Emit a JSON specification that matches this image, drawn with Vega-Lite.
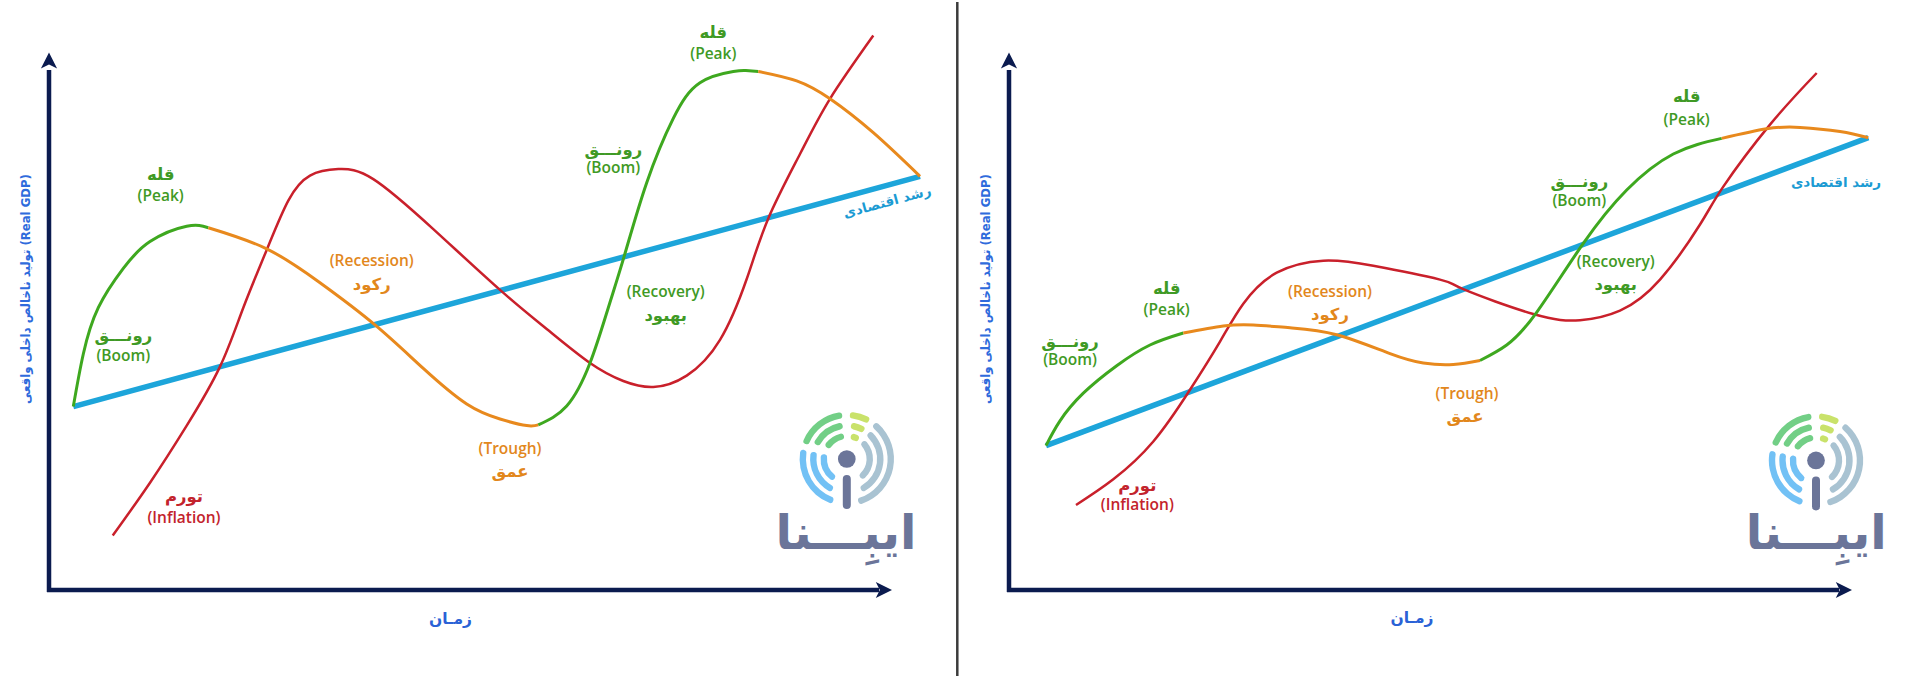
{
  "$schema": "https://vega.github.io/schema/vega-lite/v6.json",
  "background": "white",
  "padding": 0,
  "spacing": 0,
  "bounds": "flush",
  "config": {"view": {"stroke": null}, "axis": {"disable": true}},
  "resolve": {"scale": {"x": "independent", "y": "independent"}},
  "datasets": {
    "trendL": [{"t": 2.43, "v": 18.34}, {"t": 87.1, "v": 41.37}],
    "trendR": [{"t": 3.7, "v": 14.44}, {"t": 85.93, "v": 45.23}],
    "inflL": [
      {"t": 6.37, "v": 5.44}, {"t": 10.1, "v": 10.73}, {"t": 13.77, "v": 16.44}, {"t": 17.1, "v": 22.34},
      {"t": 19.43, "v": 28.23}, {"t": 21.77, "v": 34.01}, {"t": 23.93, "v": 38.94}, {"t": 26.1, "v": 41.44},
      {"t": 28.93, "v": 42.09}, {"t": 32.43, "v": 41.09}, {"t": 38.43, "v": 36.09}, {"t": 45.1, "v": 30.01},
      {"t": 49.77, "v": 26.1}, {"t": 54.1, "v": 22.7}, {"t": 57.43, "v": 20.9}, {"t": 60.43, "v": 20.3},
      {"t": 63.77, "v": 21.44}, {"t": 67.1, "v": 25.01}, {"t": 69.77, "v": 31.1}, {"t": 71.93, "v": 37.16},
      {"t": 75.1, "v": 43.6}, {"t": 78.1, "v": 49.12}, {"t": 82.43, "v": 55.44}
    ],
    "inflR": [
      {"t": 6.7, "v": 8.5}, {"t": 10.43, "v": 11.07}, {"t": 14.43, "v": 14.85}, {"t": 18.1, "v": 20.02},
      {"t": 21.1, "v": 24.84}, {"t": 23.43, "v": 28.63}, {"t": 26.77, "v": 31.73}, {"t": 31.43, "v": 32.93},
      {"t": 36.43, "v": 32.42}, {"t": 43.1, "v": 31.04}, {"t": 45.43, "v": 30.08}, {"t": 52.43, "v": 27.6},
      {"t": 57.1, "v": 26.98}, {"t": 61.1, "v": 27.94}, {"t": 65.1, "v": 31.04}, {"t": 69.1, "v": 36.55},
      {"t": 71.43, "v": 40.34}, {"t": 76.1, "v": 46.54}, {"t": 80.77, "v": 51.7}
    ],
    "cycleL": [
      {"t": 2.43, "v": 18.34, "seg": "A", "phase": "rise"}, {"t": 3.43, "v": 23.6, "seg": "A", "phase": "rise"},
      {"t": 4.93, "v": 28.23, "seg": "A", "phase": "rise"}, {"t": 7.43, "v": 32.16, "seg": "A", "phase": "rise"},
      {"t": 10.1, "v": 34.84, "seg": "A", "phase": "rise"}, {"t": 13.77, "v": 36.37, "seg": "A", "phase": "rise"},
      {"t": 15.93, "v": 36.23, "seg": "A", "phase": "rise"},
      {"t": 15.93, "v": 36.23, "seg": "B", "phase": "fall"}, {"t": 21.77, "v": 34.12, "seg": "B", "phase": "fall"},
      {"t": 27.1, "v": 30.73, "seg": "B", "phase": "fall"}, {"t": 32.6, "v": 26.51, "seg": "B", "phase": "fall"},
      {"t": 37.43, "v": 22.16, "seg": "B", "phase": "fall"}, {"t": 41.77, "v": 18.6, "seg": "B", "phase": "fall"},
      {"t": 45.1, "v": 17.1, "seg": "B", "phase": "fall"}, {"t": 47.77, "v": 16.44, "seg": "B", "phase": "fall"},
      {"t": 48.93, "v": 16.51, "seg": "B", "phase": "fall"},
      {"t": 48.93, "v": 16.51, "seg": "C", "phase": "rise"}, {"t": 51.77, "v": 18.4, "seg": "C", "phase": "rise"},
      {"t": 54.1, "v": 22.7, "seg": "C", "phase": "rise"}, {"t": 55.93, "v": 28.23, "seg": "C", "phase": "rise"},
      {"t": 57.53, "v": 33.41, "seg": "C", "phase": "rise"}, {"t": 59.77, "v": 40.73, "seg": "C", "phase": "rise"},
      {"t": 62.43, "v": 47.16, "seg": "C", "phase": "rise"}, {"t": 65.1, "v": 50.73, "seg": "C", "phase": "rise"},
      {"t": 68.43, "v": 51.85, "seg": "C", "phase": "rise"}, {"t": 69.68, "v": 51.95, "seg": "C", "phase": "rise"},
      {"t": 70.93, "v": 51.85, "seg": "C", "phase": "rise"},
      {"t": 70.93, "v": 51.85, "seg": "D", "phase": "fall"}, {"t": 74.77, "v": 50.91, "seg": "D", "phase": "fall"},
      {"t": 78.1, "v": 49.12, "seg": "D", "phase": "fall"}, {"t": 82.43, "v": 45.73, "seg": "D", "phase": "fall"},
      {"t": 87.1, "v": 41.37, "seg": "D", "phase": "fall"}
    ],
    "cycleR": [
      {"t": 3.7, "v": 14.44, "seg": "A", "phase": "rise"}, {"t": 5.1, "v": 16.92, "seg": "A", "phase": "rise"},
      {"t": 7.43, "v": 19.68, "seg": "A", "phase": "rise"}, {"t": 10.77, "v": 22.43, "seg": "A", "phase": "rise"},
      {"t": 14.1, "v": 24.5, "seg": "A", "phase": "rise"}, {"t": 17.43, "v": 25.7, "seg": "A", "phase": "rise"},
      {"t": 17.43, "v": 25.7, "seg": "B", "phase": "fall"}, {"t": 21.43, "v": 26.4, "seg": "B", "phase": "fall"},
      {"t": 24.43, "v": 26.5, "seg": "B", "phase": "fall"}, {"t": 28.1, "v": 26.22, "seg": "B", "phase": "fall"},
      {"t": 32.77, "v": 25.53, "seg": "B", "phase": "fall"}, {"t": 38.1, "v": 23.64, "seg": "B", "phase": "fall"},
      {"t": 41.43, "v": 22.7, "seg": "B", "phase": "fall"}, {"t": 44.43, "v": 22.55, "seg": "B", "phase": "fall"},
      {"t": 47.1, "v": 22.95, "seg": "B", "phase": "fall"},
      {"t": 47.1, "v": 22.95, "seg": "C", "phase": "rise"}, {"t": 49.77, "v": 24.5, "seg": "C", "phase": "rise"},
      {"t": 52.77, "v": 27.77, "seg": "C", "phase": "rise"}, {"t": 57.43, "v": 34.66, "seg": "C", "phase": "rise"},
      {"t": 61.77, "v": 40.0, "seg": "C", "phase": "rise"}, {"t": 66.43, "v": 43.6, "seg": "C", "phase": "rise"},
      {"t": 71.27, "v": 45.16, "seg": "C", "phase": "rise"},
      {"t": 71.27, "v": 45.16, "seg": "D", "phase": "fall"}, {"t": 75.77, "v": 46.12, "seg": "D", "phase": "fall"},
      {"t": 79.1, "v": 46.26, "seg": "D", "phase": "fall"}, {"t": 83.1, "v": 45.85, "seg": "D", "phase": "fall"},
      {"t": 85.93, "v": 45.23, "seg": "D", "phase": "fall"}
    ],
    "labelsL": [
      {"t": 11.17, "v": 41.51, "text": "قله", "kind": "rise"},
      {"t": 11.17, "v": 39.37, "text": "(Peak)", "kind": "rise"},
      {"t": 7.43, "v": 25.37, "text": "رونـــق", "kind": "rise"},
      {"t": 7.43, "v": 23.4, "text": "(Boom)", "kind": "rise"},
      {"t": 32.27, "v": 32.94, "text": "(Recession)", "kind": "fall"},
      {"t": 32.27, "v": 30.55, "text": "رکود", "kind": "fall"},
      {"t": 46.1, "v": 14.12, "text": "(Trough)", "kind": "fall"},
      {"t": 46.1, "v": 11.8, "text": "عمق", "kind": "fall"},
      {"t": 13.5, "v": 9.3, "text": "تورم", "kind": "infl"},
      {"t": 13.5, "v": 7.16, "text": "(Inflation)", "kind": "infl"},
      {"t": 56.43, "v": 44.01, "text": "رونـــق", "kind": "rise"},
      {"t": 56.43, "v": 42.16, "text": "(Boom)", "kind": "rise"},
      {"t": 61.67, "v": 29.84, "text": "(Recovery)", "kind": "rise"},
      {"t": 61.67, "v": 27.44, "text": "بهبود", "kind": "rise"},
      {"t": 66.43, "v": 55.73, "text": "قله", "kind": "rise"},
      {"t": 66.43, "v": 53.6, "text": "(Peak)", "kind": "rise"}
    ],
    "labelsR": [
      {"t": 6.1, "v": 24.84, "text": "رونـــق", "kind": "rise"},
      {"t": 6.1, "v": 23.05, "text": "(Boom)", "kind": "rise"},
      {"t": 15.77, "v": 30.1, "text": "قله", "kind": "rise"},
      {"t": 15.77, "v": 28.0, "text": "(Peak)", "kind": "rise"},
      {"t": 32.1, "v": 29.83, "text": "(Recession)", "kind": "fall"},
      {"t": 32.1, "v": 27.5, "text": "رکود", "kind": "fall"},
      {"t": 45.8, "v": 19.65, "text": "(Trough)", "kind": "fall"},
      {"t": 45.6, "v": 17.27, "text": "عمق", "kind": "fall"},
      {"t": 12.83, "v": 10.38, "text": "تورم", "kind": "infl"},
      {"t": 12.83, "v": 8.48, "text": "(Inflation)", "kind": "infl"},
      {"t": 57.03, "v": 40.85, "text": "رونـــق", "kind": "rise"},
      {"t": 57.03, "v": 38.9, "text": "(Boom)", "kind": "rise"},
      {"t": 60.67, "v": 32.83, "text": "(Recovery)", "kind": "rise"},
      {"t": 60.67, "v": 30.5, "text": "بهبود", "kind": "rise"},
      {"t": 67.77, "v": 49.3, "text": "قله", "kind": "rise"},
      {"t": 67.77, "v": 47.02, "text": "(Peak)", "kind": "rise"}
    ],
    "rings": [
      {"ring": 3, "a0": 290, "a1": 354, "part": "green"}, {"ring": 3, "a0": 4, "a1": 30, "part": "lime"},
      {"ring": 3, "a0": 38, "a1": 165, "part": "gray"}, {"ring": 3, "a0": 198, "a1": 282, "part": "blue"},
      {"ring": 2, "a0": 295, "a1": 353, "part": "green"}, {"ring": 2, "a0": 7, "a1": 31, "part": "lime"},
      {"ring": 2, "a0": 40, "a1": 155, "part": "gray"}, {"ring": 2, "a0": 205, "a1": 282, "part": "blue"},
      {"ring": 1, "a0": 300, "a1": 353, "part": "green"}, {"ring": 1, "a0": 10, "a1": 31, "part": "lime"},
      {"ring": 1, "a0": 42, "a1": 144, "part": "gray"}, {"ring": 1, "a0": 212, "a1": 282, "part": "blue"}
    ]
  },
  "hconcat": [
    {
      "width": 956,
      "height": 676,
      "resolve": {"scale": {"color": "independent"}},
      "layer": [
        {"data": {"name": "trendL"}, "mark": {"type": "line", "color": "#1da5da", "strokeWidth": 5.5},
         "encoding": {
           "x": {"field": "t", "type": "quantitative", "scale": {"domain": [-4.9, 90.7], "nice": false, "zero": false}},
           "y": {"field": "v", "type": "quantitative", "scale": {"domain": [-8.8, 58.8], "nice": false, "zero": false}}}},
        {"data": {"name": "inflL"}, "mark": {"type": "line", "color": "#c9202b", "strokeWidth": 2.5, "interpolate": "natural"},
         "encoding": {"x": {"field": "t", "type": "quantitative"}, "y": {"field": "v", "type": "quantitative"}}},
        {"data": {"name": "cycleL"}, "mark": {"type": "line", "strokeWidth": 3, "interpolate": "natural"},
         "encoding": {"x": {"field": "t", "type": "quantitative"}, "y": {"field": "v", "type": "quantitative"},
           "detail": {"field": "seg"}, "color": {"field": "phase", "type": "nominal", "scale": {"domain": ["rise", "fall"], "range": ["#3ea81f", "#e8891d"]}, "legend": null}}},
        {"data": {"name": "labelsL"}, "transform": [{"filter": "indexof(datum.text, '(') >= 0"}],
         "mark": {"type": "text", "font": "Open Sans", "fontSize": 15.5, "fontWeight": 600, "baseline": "middle", "align": "center"},
         "encoding": {"x": {"field": "t", "type": "quantitative"}, "y": {"field": "v", "type": "quantitative"},
           "text": {"field": "text"}, "color": {"field": "kind", "type": "nominal", "scale": {"domain": ["rise", "fall", "infl"], "range": ["#3f9a25", "#e2871c", "#c3232c"]}, "legend": null}}},
        {"data": {"name": "labelsL"}, "transform": [{"filter": "indexof(datum.text, '(') < 0"}],
         "mark": {"type": "text", "font": "DejaVu Sans", "fontSize": 16.5, "fontWeight": "bold", "baseline": "middle", "align": "center"},
         "encoding": {"x": {"field": "t", "type": "quantitative"}, "y": {"field": "v", "type": "quantitative"},
           "text": {"field": "text"}, "color": {"field": "kind", "type": "nominal", "scale": {"domain": ["rise", "fall", "infl"], "range": ["#3f9a25", "#e2871c", "#c3232c"]}, "legend": null}}},
        {"data": {"values": [{}]}, "mark": {"type": "text", "text": "رشد اقتصادی", "font": "DejaVu Sans", "fontSize": 13.5, "fontWeight": "bold", "color": "#1b9bd3", "angle": 345, "baseline": "middle", "align": "center"},
         "encoding": {"x": {"datum": 83.83}, "y": {"datum": 38.76}}},
        {"data": {"values": [{}]}, "mark": {"type": "text", "text": "تولید ناخالص داخلی واقعی   (Real GDP)", "font": "DejaVu Sans Condensed, DejaVu Sans", "fontSize": 13, "fontWeight": "bold", "color": "#2f6bdc", "angle": 270, "baseline": "middle", "align": "center"},
         "encoding": {"x": {"datum": -2.3}, "y": {"datum": 30.1}}},
        {"data": {"values": [{}]}, "mark": {"type": "text", "text": "زمـان", "font": "DejaVu Sans", "fontSize": 15.5, "fontWeight": "bold", "color": "#2a62d6", "baseline": "middle", "align": "center"},
         "encoding": {"x": {"datum": 40.15}, "y": {"datum": -2.87}}},
        {"data": {"values": [{}]}, "mark": {"type": "rule", "color": "#0b1b4f", "strokeWidth": 4.5},
         "encoding": {"x": {"datum": 0}, "y": {"datum": -0.2}, "y2": {"datum": 52}}},
        {"data": {"values": [{}]}, "mark": {"type": "rule", "color": "#0b1b4f", "strokeWidth": 4.5},
         "encoding": {"x": {"datum": -0.2}, "x2": {"datum": 83}, "y": {"datum": 0}}},
        {"data": {"values": [{}]}, "mark": {"type": "point", "shape": "M0,-1L0.9,0.8L0,0.35L-0.9,0.8Z", "size": 324, "filled": true, "opacity": 1, "color": "#0b1b4f"},
         "encoding": {"x": {"datum": 0}, "y": {"datum": 52.86}}},
        {"data": {"values": [{}]}, "mark": {"type": "point", "shape": "M1,0L-0.8,0.9L-0.35,0L-0.8,-0.9Z", "size": 324, "filled": true, "opacity": 1, "color": "#0b1b4f"},
         "encoding": {"x": {"datum": 83.4}, "y": {"datum": 0}}},
        {"data": {"name": "rings"}, "mark": {"type": "arc", "radiusOffset": 3.2, "radius2Offset": -3.2, "cornerRadius": 3},
         "encoding": {
           "x": {"datum": 79.78}, "y": {"datum": 13.1},
           "theta": {"field": "a0", "type": "quantitative", "stack": null, "scale": {"domain": [0, 360], "range": [0, 6.2832]}},
           "theta2": {"field": "a1"},
           "radius": {"field": "ring", "type": "quantitative", "scale": {"type": "linear", "zero": false, "domain": [-1.19, 3], "range": [0, 44]}},
           "radius2": {"field": "ring"},
           "color": {"field": "part", "type": "nominal", "scale": {"domain": ["green", "lime", "gray", "blue"], "range": ["#72cf86", "#c9e26a", "#a9c3d2", "#72c1f5"]}, "legend": null}
         }},
        {"data": {"values": [{}]}, "mark": {"type": "rule", "color": "#6b7599", "strokeWidth": 8, "strokeCap": "round"},
         "encoding": {"x": {"datum": 79.78}, "y": {"datum": 11.1}, "y2": {"datum": 8.5}}},
        {"data": {"values": [{}]}, "mark": {"type": "point", "shape": "circle", "size": 314, "filled": true, "opacity": 1, "color": "#6b7599"},
         "encoding": {"x": {"datum": 79.78}, "y": {"datum": 13.1}}},
        {"data": {"values": [{}]}, "mark": {"type": "text", "text": "ایبِـــنا", "font": "DejaVu Sans", "fontSize": 48, "fontWeight": "bold", "color": "#6b7599", "baseline": "alphabetic", "align": "center"},
         "encoding": {"x": {"datum": 79.7}, "y": {"datum": 4.1}}}
      ]
    },
    {
      "width": 957,
      "height": 676,
      "resolve": {"scale": {"color": "independent"}},
      "layer": [
        {"data": {"name": "trendR"}, "mark": {"type": "line", "color": "#1da5da", "strokeWidth": 5.5},
         "encoding": {
           "x": {"field": "t", "type": "quantitative", "scale": {"domain": [-5.3, 90.4], "nice": false, "zero": false}},
           "y": {"field": "v", "type": "quantitative", "scale": {"domain": [-8.8, 58.8], "nice": false, "zero": false}}}},
        {"data": {"values": [{}]}, "mark": {"type": "rule", "color": "#3b3b3b", "strokeWidth": 2.5},
         "encoding": {"x": {"datum": -5.17}, "y": {"datum": -8.8}, "y2": {"datum": 58.8}}},
        {"data": {"name": "inflR"}, "mark": {"type": "line", "color": "#c9202b", "strokeWidth": 2.5, "interpolate": "natural"},
         "encoding": {"x": {"field": "t", "type": "quantitative"}, "y": {"field": "v", "type": "quantitative"}}},
        {"data": {"name": "cycleR"}, "mark": {"type": "line", "strokeWidth": 3, "interpolate": "natural"},
         "encoding": {"x": {"field": "t", "type": "quantitative"}, "y": {"field": "v", "type": "quantitative"},
           "detail": {"field": "seg"}, "color": {"field": "phase", "type": "nominal", "scale": {"domain": ["rise", "fall"], "range": ["#3ea81f", "#e8891d"]}, "legend": null}}},
        {"data": {"name": "labelsR"}, "transform": [{"filter": "indexof(datum.text, '(') >= 0"}],
         "mark": {"type": "text", "font": "Open Sans", "fontSize": 15.5, "fontWeight": 600, "baseline": "middle", "align": "center"},
         "encoding": {"x": {"field": "t", "type": "quantitative"}, "y": {"field": "v", "type": "quantitative"},
           "text": {"field": "text"}, "color": {"field": "kind", "type": "nominal", "scale": {"domain": ["rise", "fall", "infl"], "range": ["#3f9a25", "#e2871c", "#c3232c"]}, "legend": null}}},
        {"data": {"name": "labelsR"}, "transform": [{"filter": "indexof(datum.text, '(') < 0"}],
         "mark": {"type": "text", "font": "DejaVu Sans", "fontSize": 16.5, "fontWeight": "bold", "baseline": "middle", "align": "center"},
         "encoding": {"x": {"field": "t", "type": "quantitative"}, "y": {"field": "v", "type": "quantitative"},
           "text": {"field": "text"}, "color": {"field": "kind", "type": "nominal", "scale": {"domain": ["rise", "fall", "infl"], "range": ["#3f9a25", "#e2871c", "#c3232c"]}, "legend": null}}},
        {"data": {"values": [{}]}, "mark": {"type": "text", "text": "رشد اقتصادی", "font": "DejaVu Sans", "fontSize": 13.5, "fontWeight": "bold", "color": "#1b9bd3", "baseline": "middle", "align": "center"},
         "encoding": {"x": {"datum": 82.7}, "y": {"datum": 40.75}}},
        {"data": {"values": [{}]}, "mark": {"type": "text", "text": "تولید ناخالص داخلی واقعی   (Real GDP)", "font": "DejaVu Sans Condensed, DejaVu Sans", "fontSize": 13, "fontWeight": "bold", "color": "#2f6bdc", "angle": 270, "baseline": "middle", "align": "center"},
         "encoding": {"x": {"datum": -2.3}, "y": {"datum": 30.1}}},
        {"data": {"values": [{}]}, "mark": {"type": "text", "text": "زمـان", "font": "DejaVu Sans", "fontSize": 15.5, "fontWeight": "bold", "color": "#2a62d6", "baseline": "middle", "align": "center"},
         "encoding": {"x": {"datum": 40.3}, "y": {"datum": -2.8}}},
        {"data": {"values": [{}]}, "mark": {"type": "rule", "color": "#0b1b4f", "strokeWidth": 4.5},
         "encoding": {"x": {"datum": 0}, "y": {"datum": -0.2}, "y2": {"datum": 52}}},
        {"data": {"values": [{}]}, "mark": {"type": "rule", "color": "#0b1b4f", "strokeWidth": 4.5},
         "encoding": {"x": {"datum": -0.2}, "x2": {"datum": 83}, "y": {"datum": 0}}},
        {"data": {"values": [{}]}, "mark": {"type": "point", "shape": "M0,-1L0.9,0.8L0,0.35L-0.9,0.8Z", "size": 324, "filled": true, "opacity": 1, "color": "#0b1b4f"},
         "encoding": {"x": {"datum": 0}, "y": {"datum": 52.86}}},
        {"data": {"values": [{}]}, "mark": {"type": "point", "shape": "M1,0L-0.8,0.9L-0.35,0L-0.8,-0.9Z", "size": 324, "filled": true, "opacity": 1, "color": "#0b1b4f"},
         "encoding": {"x": {"datum": 83.4}, "y": {"datum": 0}}},
        {"data": {"name": "rings"}, "mark": {"type": "arc", "radiusOffset": 3.2, "radius2Offset": -3.2, "cornerRadius": 3},
         "encoding": {
           "x": {"datum": 80.7}, "y": {"datum": 12.96},
           "theta": {"field": "a0", "type": "quantitative", "stack": null, "scale": {"domain": [0, 360], "range": [0, 6.2832]}},
           "theta2": {"field": "a1"},
           "radius": {"field": "ring", "type": "quantitative", "scale": {"type": "linear", "zero": false, "domain": [-1.19, 3], "range": [0, 44]}},
           "radius2": {"field": "ring"},
           "color": {"field": "part", "type": "nominal", "scale": {"domain": ["green", "lime", "gray", "blue"], "range": ["#72cf86", "#c9e26a", "#a9c3d2", "#72c1f5"]}, "legend": null}
         }},
        {"data": {"values": [{}]}, "mark": {"type": "rule", "color": "#6b7599", "strokeWidth": 8, "strokeCap": "round"},
         "encoding": {"x": {"datum": 80.7}, "y": {"datum": 10.96}, "y2": {"datum": 8.36}}},
        {"data": {"values": [{}]}, "mark": {"type": "point", "shape": "circle", "size": 314, "filled": true, "opacity": 1, "color": "#6b7599"},
         "encoding": {"x": {"datum": 80.7}, "y": {"datum": 12.96}}},
        {"data": {"values": [{}]}, "mark": {"type": "text", "text": "ایبِـــنا", "font": "DejaVu Sans", "fontSize": 48, "fontWeight": "bold", "color": "#6b7599", "baseline": "alphabetic", "align": "center"},
         "encoding": {"x": {"datum": 80.73}, "y": {"datum": 4.1}}}
      ]
    }
  ]
}
